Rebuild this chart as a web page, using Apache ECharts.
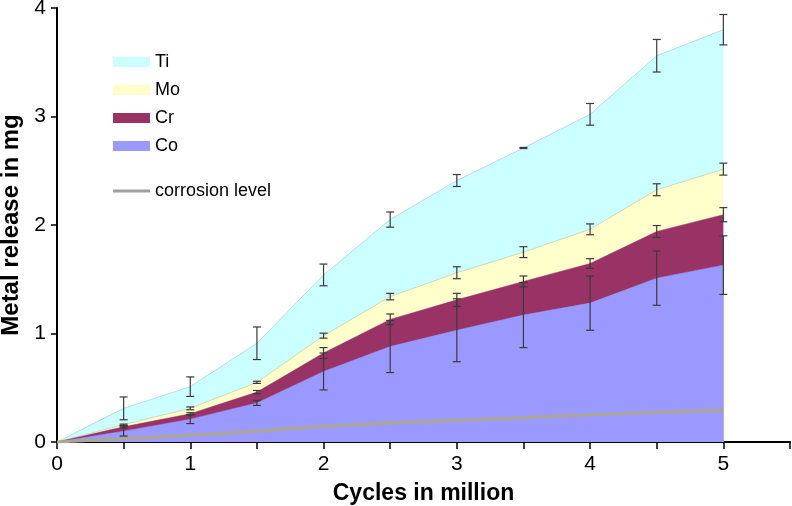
<!DOCTYPE html>
<html>
<head>
<meta charset="utf-8">
<script src="https://cdn.jsdelivr.net/npm/echarts@6/dist/echarts.min.js"></script>
<style>html,body{margin:0;padding:0;background:#fff}#c{width:792px;height:506px}</style>
</head>
<body>
<div id="c"></div>
<script>
// Cycles (million)
var cycles = [0, 0.5, 1, 1.5, 2, 2.5, 3, 3.5, 4, 4.5, 5];
// Individual metal release (mg), stacked bottom to top: Co, Cr, Mo, Ti
var co = [0, 0.10, 0.21, 0.36, 0.65, 0.88, 1.03, 1.17, 1.28, 1.51, 1.63];
var cr = [0, 0.04, 0.05, 0.10, 0.17, 0.25, 0.28, 0.31, 0.365, 0.43, 0.465];
var mo = [0, 0.02, 0.05, 0.09, 0.16, 0.21, 0.25, 0.27, 0.315, 0.385, 0.42];
var ti = [0, 0.15, 0.20, 0.36, 0.56, 0.71, 0.85, 0.96, 1.06, 1.235, 1.285];
// Error bar half-widths (mg)
var coErr = [null, 0.045, 0.04, 0.023, 0.17, 0.24, 0.29, 0.30, 0.25, 0.25, 0.27];
var crErr = [null, 0.01, 0.01, 0.015, 0.05, 0.05, 0.06, 0.05, 0.045, 0.055, 0.065];
var moErr = [null, 0.005, 0.013, 0.01, 0.023, 0.03, 0.055, 0.05, 0.05, 0.055, 0.055];
var tiErr = [null, 0.105, 0.09, 0.15, 0.10, 0.07, 0.055, 0.005, 0.10, 0.15, 0.14];
// Corrosion level (mg)
var corrosion = [0, 0.03, 0.065, 0.10, 0.145, 0.175, 0.20, 0.225, 0.25, 0.275, 0.295];
var xTicks = [0, 1, 2, 3, 4, 5];
var yTicks = [0, 1, 2, 3, 4];

function pairs(arr) { return cycles.map(function (x, i) { return [x, arr[i]]; }); }

// Build cumulative (stacked) tops and error bar positions
var layers = [co, cr, mo, ti];
var errs = [coErr, crErr, moErr, tiErr];
var cumLayers = [];
var errData = [];
var cum = cycles.map(function () { return 0; });
layers.forEach(function (layer, k) {
  cum = cum.map(function (c, i) { return c + layer[i]; });
  cumLayers.push(cum.slice());
  cycles.forEach(function (x, i) {
    var e = errs[k][i];
    if (e !== null && e !== undefined) errData.push([x, cum[i] - e, cum[i] + e]);
  });
});

var chart = echarts.init(document.getElementById('c'));
var font = 'Liberation Sans, Arial, sans-serif';
function areaSeries(name, arr, color, lineColor, lineWidth, z) {
  return {
    name: name, type: 'line', data: pairs(arr),
    showSymbol: false, symbol: 'none', smooth: false,
    lineStyle: { width: lineWidth, color: lineColor },
    areaStyle: { color: color, opacity: 1, origin: 'start' },
    itemStyle: { color: color },
    z: z, silent: true
  };
}
chart.setOption({
  animation: false,
  textStyle: { fontFamily: font },
  grid: { left: 57, right: 2, top: 8, bottom: 64, containLabel: false, outerBoundsMode: 'none' },
  legend: [{
    data: ['Ti', 'Mo', 'Cr', 'Co'],
    orient: 'vertical', left: 108, top: 48,
    itemWidth: 37, itemHeight: 10, itemGap: 10,
    icon: 'rect',
    textStyle: { fontSize: 18, color: '#000', fontFamily: font, lineHeight: 16 },
    selectedMode: false
  }, {
    data: ['corrosion level'],
    orient: 'vertical', left: 108, top: 177,
    itemWidth: 37, itemHeight: 3,
    icon: 'rect',
    textStyle: { fontSize: 18, color: '#000', fontFamily: font, lineHeight: 16 },
    selectedMode: false
  }],
  xAxis: {
    type: 'value', min: 0, max: 5.5, interval: 0.5,
    name: 'Cycles in million', nameLocation: 'middle', nameGap: 40,
    nameTextStyle: { fontSize: 23, fontWeight: 'bold', color: '#000', fontFamily: font },
    axisLine: { show: true, onZero: false, lineStyle: { color: '#000', width: 2 } },
    axisTick: { show: true, length: 7, lineStyle: { color: '#000', width: 1.5 } },
    axisLabel: {
      fontSize: 21, color: '#000', margin: 12, fontFamily: font,
      formatter: function (v) { return xTicks.indexOf(v) >= 0 ? String(v) : ''; }
    },
    splitLine: { show: false }
  },
  yAxis: {
    type: 'value', min: 0, max: 4, interval: 1,
    name: 'Metal release in mg', nameLocation: 'middle', nameGap: 29,
    nameTextStyle: { fontSize: 24, fontWeight: 'bold', color: '#000', fontFamily: font },
    axisLine: { show: true, onZero: false, lineStyle: { color: '#000', width: 2 } },
    axisTick: { show: true, length: 6, lineStyle: { color: '#000', width: 1.5 } },
    axisLabel: {
      fontSize: 21, color: '#000', margin: 11, fontFamily: font,
      formatter: function (v) { return yTicks.indexOf(v) >= 0 ? String(v) : ''; }
    },
    splitLine: { show: false }
  },
  series: [
    areaSeries('Ti', cumLayers[3], '#ccffff', '#b4dede', 1, 1),
    areaSeries('Mo', cumLayers[2], '#ffffcc', '#cdd9bd', 1, 2),
    areaSeries('Cr', cumLayers[1], '#993366', '#993366', 0.5, 3),
    areaSeries('Co', cumLayers[0], '#9999ff', '#9999ff', 0.5, 4),
    {
      name: 'corrosion level', type: 'line', data: pairs(corrosion),
      showSymbol: false, symbol: 'none',
      lineStyle: { width: 3, color: '#aca690' },
      itemStyle: { color: '#a0a0a0' },
      z: 5, silent: true
    },
    {
      name: 'err', type: 'custom', data: errData, z: 10, silent: true,
      encode: { x: 0, y: [1, 2] },
      renderItem: function (params, api) {
        var x = api.value(0);
        var lo = api.coord([x, api.value(1)]);
        var hi = api.coord([x, api.value(2)]);
        var w = 4;
        var st = { stroke: '#3a3a3a', lineWidth: 1.2 };
        return {
          type: 'group',
          children: [
            { type: 'line', shape: { x1: lo[0], y1: lo[1], x2: hi[0], y2: hi[1] }, style: st },
            { type: 'line', shape: { x1: lo[0] - w, y1: lo[1], x2: lo[0] + w, y2: lo[1] }, style: st },
            { type: 'line', shape: { x1: hi[0] - w, y1: hi[1], x2: hi[0] + w, y2: hi[1] }, style: st }
          ]
        };
      }
    }
  ]
});
</script>
</body>
</html>
